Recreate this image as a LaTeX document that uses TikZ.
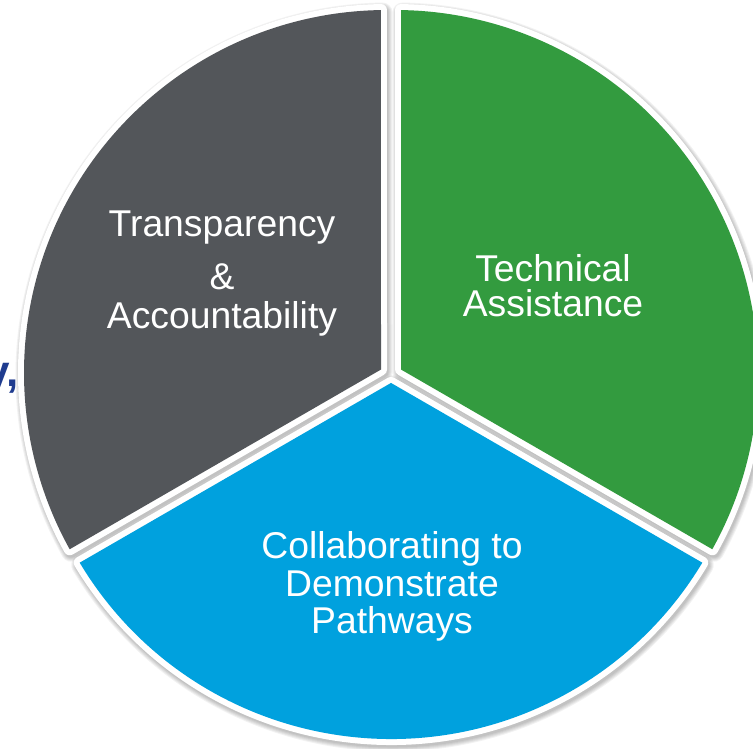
\documentclass[tikz,border=0pt]{standalone}
\usepackage{fontspec}
\setmainfont{Liberation Sans}
\usetikzlibrary{calc}
\definecolor{pgray}{HTML}{53565A}
\definecolor{pgreen}{HTML}{339B3F}
\definecolor{pblue}{HTML}{00A1DE}
\definecolor{ptext}{HTML}{1F3C8F}
\newcommand\pieWedge[3]{([shift={(#3:6.93)}]#1,#2) -- ($(#1,#2)+(#3-59.05:363)$) arc[start angle={#3-59.05}, end angle={#3+59.05}, radius=363] -- cycle}
\tikzset{
  lbl/.style={text=white, anchor=base, inner sep=0pt, font=\fontsize{37.3}{40}\selectfont},
  wedgefill/.style={fill=#1, preaction={draw=white, line width=12pt, line join=round}},
}
\begin{document}
\begin{tikzpicture}[x=1pt,y=1pt]
\useasboundingbox (0,0) rectangle (753,748);
\clip (0,0) rectangle (753,748);
\fill[white] (0,0) rectangle (753,748);
% partially visible text behind
\node[anchor=base east, inner sep=0pt, text=ptext, font=\bfseries\fontsize{44}{48}\selectfont] (ytext) at (19,361) {y,};
% shadows
\begin{scope}[shift={(1.5,-2.5)}]
\foreach \cx/\cy/\b in {387/375/150, 395/375/30, 391/372/270}{
  \foreach \w in {12,14,16,18,20}{
    \path[draw=black, fill=black, opacity=0.05, line width=\w pt, line join=round] \pieWedge{\cx}{\cy}{\b};
  }
}
\end{scope}
% wedges
\path[wedgefill=pgray] \pieWedge{387}{375}{150};
\path[wedgefill=pgreen] \pieWedge{395}{375}{30};
\path[wedgefill=pblue] \pieWedge{391}{372}{270};
% labels
\node[lbl] (t1) at (222,511) {Transparency};
\node[lbl] (t2) at (222,458) {\&};
\node[lbl] (t3) at (222,419.7) {Accountability};
\node[lbl] (g1) at (553,466.3) {Technical};
\node[lbl] (g2) at (553,431.3) {Assistance};
\node[lbl] (b1) at (392,189.7) {Collaborating to};
\node[lbl] (b2) at (392,151.3) {Demonstrate};
\node[lbl] (b3) at (392,114.7) {Pathways};
\end{tikzpicture}
\end{document}
